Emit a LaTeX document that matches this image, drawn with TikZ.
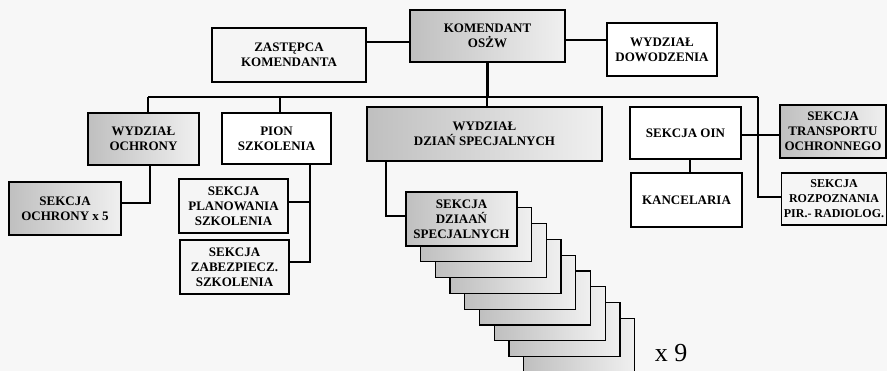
\documentclass[tikz,border=0pt]{standalone}
\usepackage{fontspec}
\setmainfont{Liberation Serif}
\usetikzlibrary{positioning}

\begin{document}
\begin{tikzpicture}[x=1pt, y=-1pt,
    box/.style={draw, line width=1.3pt, align=center, inner sep=0pt, fill=white,
      minimum width=110pt, minimum height=53pt, font=\bfseries\fontsize{13}{15}\selectfont},
    shadebox/.style={box, left color=gray!50, right color=gray!12},
    lightbox/.style={box, fill=gray!8},
    link/.style={line width=2.6pt}]
      \useasboundingbox (0,0) rectangle (887,371);
      \fill[black!3] (0,0) rectangle (887,371);

      % top level
      \node[shadebox, minimum width=155pt, minimum height=52pt] (kom) at (487.5,36) {KOMENDANT\\OSŻW};
      \node[lightbox, minimum width=154pt, minimum height=54pt] (zast) at (289,55) {ZASTĘPCA\\KOMENDANTA};
      \node[box] (dow) at (662,49.5) {WYDZIAŁ\\DOWODZENIA};
      \draw[link] (zast.east |- 0,42) -- (kom.west |- 0,42);
      \draw[link] (kom.east |- 0,40) -- (dow.west |- 0,40);

      % bus
      \coordinate (busl) at (148,97);
      \coordinate (busr) at (758,97);
      \draw[link] (kom.south) -- (kom.south |- busl);
      \draw[link] (busl) -- (busr);

      % departments
      \node[shadebox, minimum width=111pt, minimum height=52pt] (ochr) at (143.5,139) {WYDZIAŁ\\OCHRONY};
      \node[box, minimum width=109pt, minimum height=51pt] (pion) at (276.5,138.5) {PION\\SZKOLENIA};
      \node[shadebox, minimum width=235pt, minimum height=54pt] (dzs) at (484.5,134) {WYDZIAŁ\\DZIAŃ SPECJALNYCH};
      \node[box, minimum width=111pt, minimum height=52pt] (oin) at (685.5,133) {SEKCJA OIN};
      \node[box, minimum width=111pt, minimum height=54pt] (kanc) at (686.5,200) {KANCELARIA};
      \node[shadebox, minimum width=106pt] (trans) at (833,131.5) {SEKCJA\\TRANSPORTU\\OCHRONNEGO};
      \node[lightbox, minimum width=105pt, minimum height=52pt, font=\bfseries\fontsize{12}{15}\selectfont] (rozp) at (834,199) {SEKCJA\\ROZPOZNANIA\\PIR.- RADIOLOG.};
      \draw[link] (busl) -- (ochr.north -| busl);
      \draw[link] (280,97) -- (pion.north -| 280,0);
      \draw[link] (dzs.north -| 487,0) -- (487,97);
      \draw[link] (busr) -- (758,197) -- (rozp.west |- 0,197);
      \draw[link] (oin.east |- 0,135) -- (trans.west |- 0,135);
      \draw[link] (oin.south -| 690,0) -- (kanc.north -| 690,0);

      % sections
      \node[shadebox, minimum width=112pt] (sochr) at (65,208.5) {SEKCJA\\OCHRONY x 5};
      \node[lightbox, minimum width=109pt, minimum height=54pt] (plan) at (233.5,206) {SEKCJA\\PLANOWANIA\\SZKOLENIA};
      \node[lightbox, minimum width=109pt, minimum height=54pt] (zab) at (234.5,267) {SEKCJA\\ZABEZPIECZ.\\SZKOLENIA};
      \draw[link] (ochr.south -| 150,0) -- (150,203) -- (sochr.east |- 0,203);
      \draw[link] (pion.south -| 310,0) -- (310,262) -- (zab.east |- 0,262);
      \draw[link] (310,202) -- (plan.east |- 0,202);

      % stack x 9
      \foreach \i in {8,...,1}
        \node[shadebox, minimum width=111pt, minimum height=54pt] (sds\i) at ({461.5+14.7*\i},{219+15.8*\i}) {};
      \node[shadebox, minimum width=111pt, minimum height=54pt] (sds) at (461.5,219) {SEKCJA\\DZIAAŃ\\SPECJALNYCH};
      \draw[link] (dzs.south -| 386,0) -- (386,216) -- (sds.west |- 0,216);
      \node[font=\fontsize{26}{26}\selectfont] (razy) at (671,353) {x 9};
\end{tikzpicture}
\end{document}
